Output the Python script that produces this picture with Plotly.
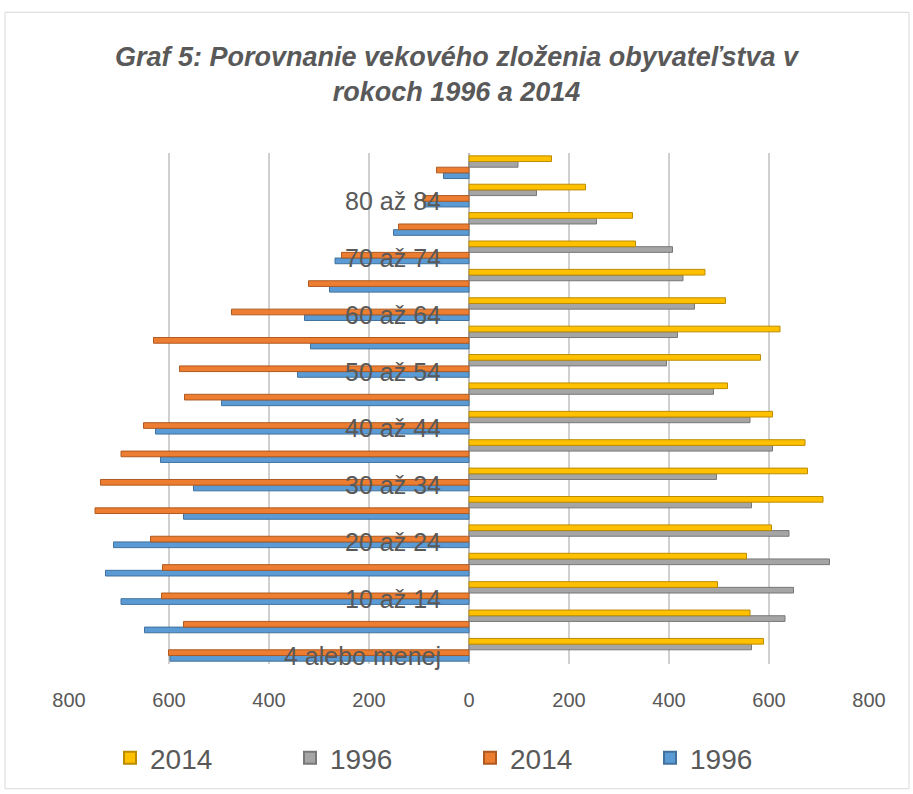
import plotly.graph_objects as go

categories = ["4 alebo menej", "5 až 9", "10 až 14", "15 až 19", "20 až 24", "25 až 29",
              "30 až 34", "35 až 39", "40 až 44", "45 až 49", "50 až 54", "55 až 59",
              "60 až 64", "65 až 69", "70 až 74", "75 až 79", "80 až 84", "85 a viac"]

# left side (drawn to the left of zero)
left_2014 = [601, 571, 615, 613, 637, 748, 737, 696, 651, 569, 579, 631, 475, 321, 255, 141, 92, 65]
left_1996 = [598, 649, 696, 727, 711, 571, 551, 617, 627, 495, 343, 317, 329, 279, 268, 151, 90, 51]
# right side
right_2014 = [589, 562, 497, 555, 605, 708, 677, 672, 607, 517, 583, 622, 513, 472, 333, 327, 233, 165]
right_1996 = [565, 632, 649, 721, 640, 565, 495, 607, 562, 489, 395, 417, 451, 428, 407, 255, 135, 98]

legend_names = ["2014", "1996", "2014", "1996"]
x_ticks = [-800, -600, -400, -200, 0, 200, 400, 600, 800]

FONT = "Liberation Sans Narrow, Arial Narrow, Liberation Sans, sans-serif"
TXT = "#595959"

fig = go.Figure()
fig.add_trace(go.Bar(y=categories, x=[-v for v in left_1996], orientation="h", name=legend_names[3],
                     marker=dict(color="#5B9BD5", line=dict(color="#41719C", width=1))))
fig.add_trace(go.Bar(y=categories, x=[-v for v in left_2014], orientation="h", name=legend_names[2],
                     marker=dict(color="#ED7D31", line=dict(color="#AE5A21", width=1))))
fig.add_trace(go.Bar(y=categories, x=right_1996, orientation="h", name=legend_names[1],
                     marker=dict(color="#A5A5A5", line=dict(color="#787878", width=1))))
fig.add_trace(go.Bar(y=categories, x=right_2014, orientation="h", name=legend_names[0],
                     marker=dict(color="#FFC000", line=dict(color="#BC8C00", width=1))))

L, R, T, B = 69, 44, 153, 129
W, H = 913, 794
pw, ph = W - L - R, H - T - B

def px_x(p):
    return (p - L) / pw

def px_y(p):
    return (H - B - p) / ph

fig.update_layout(
    width=W, height=H,
    margin=dict(l=L, r=R, t=T, b=B),
    paper_bgcolor="white", plot_bgcolor="white",
    font=dict(family=FONT, color=TXT),
    barmode="group", bargap=0.2, bargroupgap=0,
    title=dict(text="<b><i>Graf 5: Porovnanie vekového zloženia obyvateľstva v<br>rokoch 1996 a 2014</i></b>",
               x=0.5, xanchor="center", xref="container",
               y=1 - 66 / H, yanchor="middle", yref="container",
               font=dict(size=27, color=TXT, family=FONT)),
    xaxis=dict(range=[-800, 800], tickvals=x_ticks, ticktext=[str(abs(v)) for v in x_ticks],
               showgrid=True, gridcolor="#D0D0D0", gridwidth=2, zeroline=True,
               zerolinecolor="#BFBFBF", zerolinewidth=2, showline=False, ticks="",
               ticklabelstandoff=22, tickfont=dict(size=20, color=TXT), fixedrange=True),
    yaxis=dict(type="category", anchor="free", position=0.5,
               tickvals=categories[0::2], ticktext=categories[0::2],
               showgrid=False, showline=False, ticks="", ticklabelstandoff=28,
               ticklabelshift=6,
               tickfont=dict(size=25, color=TXT), fixedrange=True),
    legend=dict(orientation="h", traceorder="reversed", x=px_x(110), xanchor="left",
                y=px_y(758), yanchor="middle", font=dict(size=28, color=TXT),
                entrywidth=135, entrywidthmode="pixels", itemsizing="constant"),
    shapes=[dict(type="rect", xref="paper", yref="paper",
                 x0=px_x(5), x1=px_x(909), y0=px_y(790), y1=px_y(12),
                 line=dict(color="#D9D9D9", width=1), fillcolor="rgba(0,0,0,0)", layer="below")],
)

fig.write_html("out.html", config={"displayModeBar": False},
               post_script="document.body.style.margin='0px';document.body.style.overflow='hidden';")
